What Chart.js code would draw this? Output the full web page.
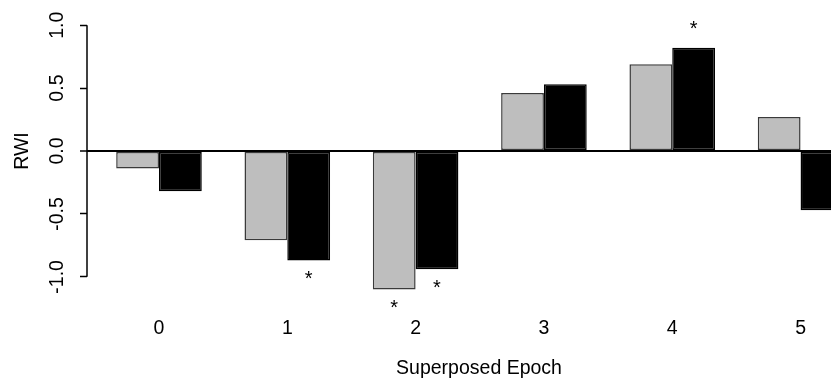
<!DOCTYPE html>
<html><head><meta charset="utf-8">
<script src="https://cdn.jsdelivr.net/npm/chart.js@4/dist/chart.umd.min.js"></script>
<style>html,body{margin:0;padding:0;background:#fff;overflow:hidden;width:831px;height:380px}#wrap{width:871px;height:380px;position:relative}</style>
</head><body><div id="wrap"><canvas id="c"></canvas></div>
<script>
const categories = ['0','1','2','3','4','5'];
const grayValues = [-0.14, -0.71, -1.10, 0.46, 0.69, 0.27];
const blackValues = [-0.32, -0.87, -0.94, 0.53, 0.82, -0.47];
const graySignificant = [false, false, true, false, false, false];
const blackSignificant = [false, true, true, false, true, false];
const yTickValues = [-1.0, -0.5, 0.0, 0.5, 1.0];
const yTickLabels = ['-1.0', '-0.5', '0.0', '0.5', '1.0'];
const xTitle = 'Superposed Epoch';
const yTitle = 'RWI';

const FONT = '"Liberation Sans", Arial, sans-serif';
const FS = 19.5;

const extras = {
  id: 'extras',
  afterDatasetsDraw(chart) {
    const ctx = chart.ctx, y = chart.scales.y, a = chart.chartArea;
    ctx.save();
    ctx.strokeStyle = '#000';
    ctx.lineWidth = 1.5;
    ctx.beginPath();
    ctx.moveTo(a.left, y.getPixelForValue(yTickValues[0]));
    ctx.lineTo(a.left, y.getPixelForValue(yTickValues[yTickValues.length - 1]));
    ctx.stroke();
    ctx.fillStyle = '#000';
    ctx.font = '20px ' + FONT;
    ctx.textAlign = 'center';
    ctx.textBaseline = 'alphabetic';
    [[graySignificant, grayValues], [blackSignificant, blackValues]].forEach(([sig, vals], di) => {
      const meta = chart.getDatasetMeta(di);
      sig.forEach((s, i) => {
        if (!s) return;
        const el = meta.data[i];
        const v = vals[i];
        const target = v + (v >= 0 ? 0.15 : -0.15);
        ctx.fillText('*', el.x, y.getPixelForValue(target) + 6);
      });
    });
    ctx.restore();
  }
};

new Chart(document.getElementById('c'), {
  type: 'bar',
  data: {
    datasets: [
      { data: grayValues.map((v, i) => ({ x: i, y: v })), backgroundColor: '#bebebe', borderColor: '#3a3a3a', borderWidth: 1.5, borderSkipped: false },
      { data: blackValues.map((v, i) => ({ x: i, y: v })), backgroundColor: '#000', borderColor: '#000', borderWidth: 1.5, borderSkipped: false }
    ]
  },
  options: {
    responsive: true,
    maintainAspectRatio: false,
    animation: false,
    layout: { padding: 0 },
    categoryPercentage: 0.667,
    barPercentage: 1.0,
    plugins: { legend: { display: false }, tooltip: { enabled: false } },
    scales: {
      x: {
        type: 'linear', min: -0.561, max: 5.549, offset: false,
        afterBuildTicks: s => { s.ticks = categories.map((c, i) => ({ value: i })); },
        ticks: { callback: v => categories[v], font: { family: FONT, size: FS }, color: '#000', padding: 15, autoSkip: false, maxRotation: 0 },
        grid: { display: false, drawTicks: false },
        border: { display: false },
        title: { display: true, text: xTitle, font: { family: FONT, size: FS }, color: '#000', padding: { top: 10, bottom: 0 } },
        afterFit: s => { s.height = 78; s.paddingLeft = 0; s.paddingRight = 0; }
      },
      y: {
        min: -1.2, max: 1.2,
        afterBuildTicks: s => { s.ticks = yTickValues.map(v => ({ value: v })); },
        ticks: { callback: (v, i) => yTickLabels[i], minRotation: 90, maxRotation: 90, crossAlign: 'center', padding: 6, font: { family: FONT, size: FS }, color: '#000' },
        grid: {
          color: c => (c.tick && c.tick.value === 0) ? '#000' : 'rgba(0,0,0,0)',
          lineWidth: c => (c.tick && c.tick.value === 0) ? 2 : 1,
          tickColor: '#000', tickLength: 7, tickWidth: 1.5, drawOnChartArea: true
        },
        border: { display: false },
        title: { display: true, text: yTitle, font: { family: FONT, size: FS }, color: '#000', padding: { top: 11, bottom: 0 } },
        afterFit: s => { s.width = 87; s.paddingTop = 0; s.paddingBottom = 0; }
      }
    }
  },
  plugins: [extras]
});
</script>
</body></html>
